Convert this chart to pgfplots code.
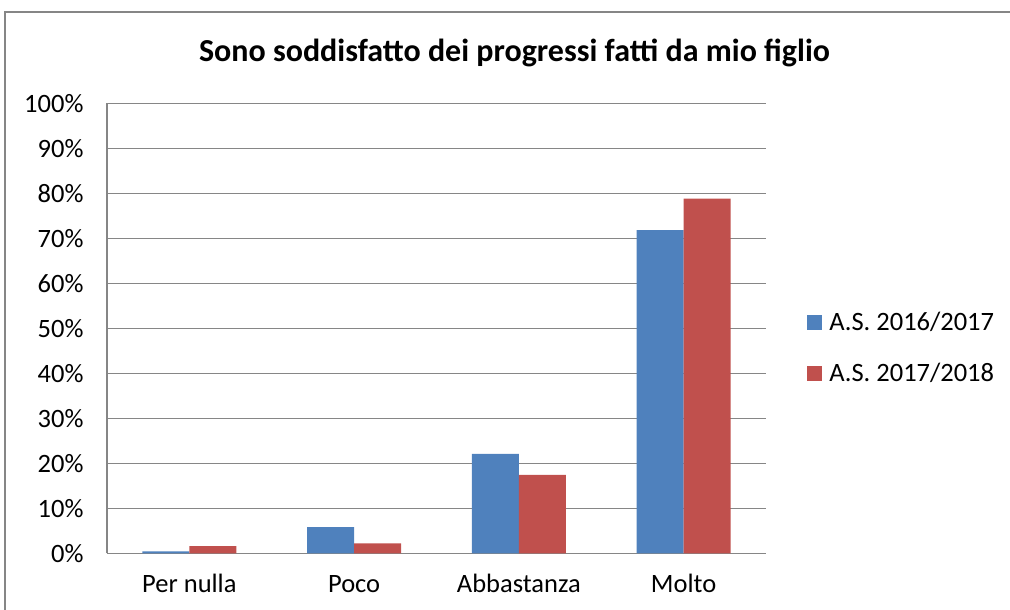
\documentclass[border=0pt]{standalone}
\usepackage{pgfplots}
\pgfplotsset{compat=1.18}
\usepackage{fontspec}
\setmainfont{Carlito}
\definecolor{blueS}{RGB}{79,129,189}
\definecolor{redS}{RGB}{192,80,77}
\definecolor{gridc}{RGB}{134,134,134}
\begin{document}
\begin{tikzpicture}[x=1bp,y=1bp]
\path[use as bounding box] (0,0) rectangle (1010,610);
\begin{scope}
\clip (0,0) rectangle (1010,610);
\draw[gridc, line width=1.5bp] (5,-10) -- (5,598) -- (1020,598);
\end{scope}
\node[font=\fontsize{32bp}{36bp}\selectfont\bfseries] at (514.5,557) {Sono soddisfatto dei progressi fatti da mio figlio};
\begin{axis}[
  at={(107bp,56.7bp)}, anchor=south west,
  scale only axis, width=659bp, height=450bp,
  ymin=0, ymax=100, xmin=-0.5, xmax=3.5,
  ybar=0pt, bar width=47bp,
  ytick={0,10,20,30,40,50,60,70,80,90,100},
  yticklabels={0\%,10\%,20\%,30\%,40\%,50\%,60\%,70\%,80\%,90\%,100\%},
  xtick={0,1,2,3},
  xticklabels={Per nulla,Poco,Abbastanza,Molto},
  major tick length=0pt,
  ymajorgrids, grid style={gridc, line width=1.3bp},
  axis lines*=left,
  axis line style={gridc, line width=1.5bp},
  tick label style={font=\fontsize{26.5bp}{30bp}\selectfont, black},
  yticklabel style={xshift=-20bp},
  xticklabel style={anchor=base, yshift=-39bp},
  legend style={at={(1.0625,0.457)}, anchor=west, draw=none, fill=none,
    font=\fontsize{26.5bp}{30bp}\selectfont, row sep=27bp, inner sep=0pt,
    nodes={inner xsep=7bp}},
  legend cell align=left,
  legend image code/.code={\fill[#1] (0bp,-7.5bp) rectangle (15bp,7.5bp);},
]
\addplot[fill=blueS, draw=none] coordinates {(0,0.4) (1,5.8) (2,22.1) (3,71.8)};
\addplot[fill=redS, draw=none] coordinates {(0,1.6) (1,2.2) (2,17.4) (3,78.8)};
\legend{A.S. 2016/2017, A.S. 2017/2018}
\end{axis}
\end{tikzpicture}
\end{document}
